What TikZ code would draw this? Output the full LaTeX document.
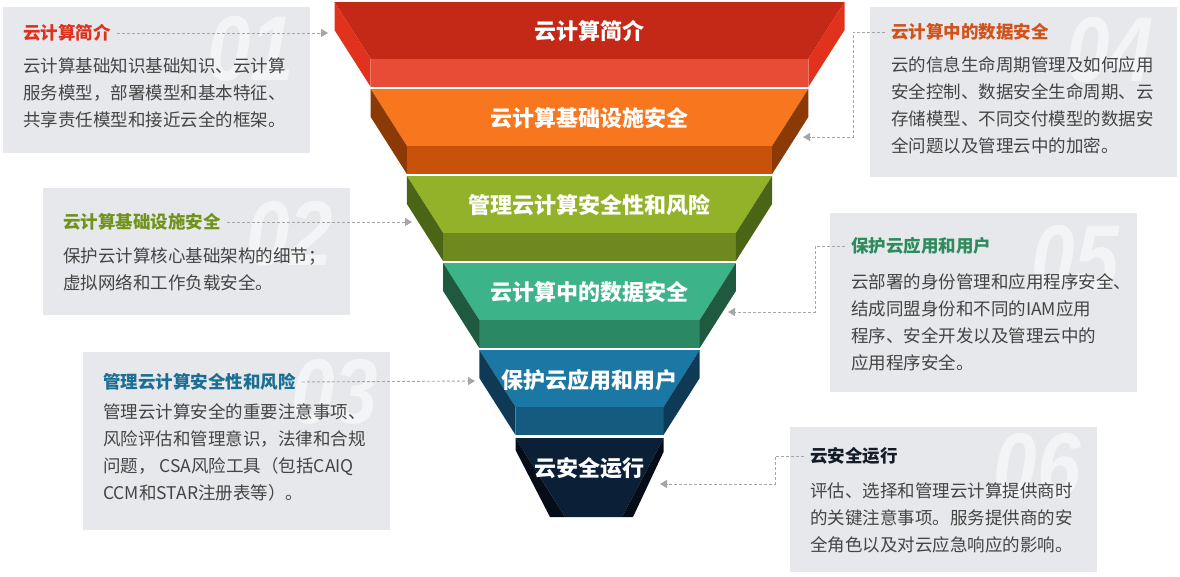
\documentclass[tikz,border=0pt]{standalone}
\usepackage{fontspec}
\newfontfamily\cjk{Noto Sans CJK SC}
\newfontfamily\wmfont{Liberation Sans}
\usetikzlibrary{arrows.meta}
\definecolor{boxbg}{HTML}{E6E8EB}
\definecolor{wmcol}{HTML}{F3F4F6}
\definecolor{bodycol}{HTML}{444444}
\definecolor{conncol}{HTML}{A6A6A6}
\definecolor{faceA}{HTML}{C42816}\definecolor{bandA}{HTML}{E84C36}\definecolor{wedgeA}{HTML}{E0321C}
\definecolor{faceB}{HTML}{F7761E}\definecolor{bandB}{HTML}{C9520A}\definecolor{wedgeB}{HTML}{8B3A06}
\definecolor{faceC}{HTML}{92B22A}\definecolor{bandC}{HTML}{6E8A1E}\definecolor{wedgeC}{HTML}{4B6516}
\definecolor{faceD}{HTML}{3DB38A}\definecolor{bandD}{HTML}{2C8864}\definecolor{wedgeD}{HTML}{1F5A40}
\definecolor{faceE}{HTML}{1B77A3}\definecolor{bandE}{HTML}{155B7F}\definecolor{wedgeE}{HTML}{0E3A55}
\definecolor{faceF}{HTML}{0B1F36}\definecolor{wedgeF}{HTML}{050D18}
\definecolor{ttlA}{HTML}{E0301E}
\definecolor{ttlB}{HTML}{72921E}
\definecolor{ttlC}{HTML}{1B6E94}
\definecolor{ttlD}{HTML}{D2521C}
\definecolor{ttlE}{HTML}{2E8B5E}
\definecolor{ttlF}{HTML}{141C28}
\newcommand\funneltier[6]{%
  \fill[#4] (589.5-#2,#1) -- (589.5+#2,#1) -- (589.5+#3,#1+57) -- (589.5-#3,#1+57) -- cycle;
  \fill[#5] (589.5-#3,#1+57) rectangle (589.5+#3,#1+85);
  \fill[#6] (589.5-#2,#1) -- (589.5-#2,#1+28) -- (589.5-#3,#1+85) -- (589.5-#3,#1+57) -- cycle;
  \fill[#6] (589.5+#2,#1) -- (589.5+#2,#1+28) -- (589.5+#3,#1+85) -- (589.5+#3,#1+57) -- cycle;
}
\begin{document}
\begin{tikzpicture}[x=1pt,y=-1pt,
  tierlbl/.style={text=white,font=\cjk\bfseries\fontsize{22}{22}\selectfont,inner sep=0pt},
  ttl/.style={anchor=west,font=\cjk\bfseries\fontsize{17.5}{20}\selectfont,inner sep=0pt},
  body/.style={anchor=north west,align=left,text=bodycol,font=\cjk\fontsize{17.5}{27}\selectfont,inner sep=0pt},
  wm/.style={text=wmcol,font=\wmfont\bfseries\itshape\fontsize{92}{92}\selectfont,xscale=0.85,inner sep=0pt},
  conn/.style={draw=conncol,line width=0.9pt,dash pattern=on 3pt off 2pt,shorten <=6pt,
    -{Triangle[length=7pt,width=8pt,fill=conncol,sep=0pt]}},
  boxfill/.style={fill=boxbg}]
\useasboundingbox (0,0) rectangle (1180,576);
\fill[white] (0,0) rectangle (1180,576);
% funnel
\funneltier{2}{255}{218.8}{faceA}{bandA}{wedgeA}
\funneltier{89}{218.8}{182.6}{faceB}{bandB}{wedgeB}
\funneltier{176}{182.6}{146.4}{faceC}{bandC}{wedgeC}
\funneltier{263}{146.4}{110.2}{faceD}{bandD}{wedgeD}
\funneltier{350}{110.2}{74}{faceE}{bandE}{wedgeE}
\fill[faceF] (515.5,438) -- (663.5,438) -- (622,517) -- (565,517) -- cycle;
\fill[wedgeF] (515.5,438) -- (515.5,450) -- (550,517) -- (565,517) -- cycle;
\fill[wedgeF] (663.5,438) -- (663.5,452) -- (633,517) -- (622,517) -- cycle;
\node[tierlbl] (n1) at (589.5,31) {云计算简介};
\node[tierlbl] (n2) at (589.5,118) {云计算基础设施安全};
\node[tierlbl] (n3) at (589.5,205) {管理云计算安全性和风险};
\node[tierlbl] (n4) at (589.5,292) {云计算中的数据安全};
\node[tierlbl] (n5) at (589.5,380) {保护云应用和用户};
\node[tierlbl] (n6) at (589.5,468) {云安全运行};
% boxes
\fill[boxfill] (3,7) rectangle (310,153);
\fill[boxfill] (43,188) rectangle (350,315);
\fill[boxfill] (83,352) rectangle (390,530);
\fill[boxfill] (870,7) rectangle (1177,177);
\fill[boxfill] (830,213) rectangle (1137,392);
\fill[boxfill] (790,427) rectangle (1097,572);
% watermarks
\node[wm] (w1) at (251,49) {01};
\node[wm] (w2) at (290,234) {02};
\node[wm] (w3) at (335,392) {03};
\node[wm] (w4) at (1110,50) {04};
\node[wm] (w5) at (1075,258) {05};
\node[wm] (w6) at (1037,466) {06};
% titles
\node[ttl,text=ttlA] (t1) at (23,33) {云计算简介};
\node[ttl,text=ttlB] (t2) at (63,222) {云计算基础设施安全};
\node[ttl,text=ttlC] (t3) at (103,382) {管理云计算安全性和风险};
\node[ttl,text=ttlD] (t4) at (891,32) {云计算中的数据安全};
\node[ttl,text=ttlE] (t5) at (851,246) {保护云应用和用户};
\node[ttl,text=ttlF] (t6) at (810,456) {云安全运行};
% bodies
\node[body] (b1) at (23,58) {云计算基础知识基础知识、云计算\\服务模型，部署模型和基本特征、\\共享责任模型和接近云全的框架。};
\node[body] (b2) at (63,248) {保护云计算核心基础架构的细节；\\虚拟网络和工作负载安全。};
\node[body] (b3) at (103,403) {管理云计算安全的重要注意事项、\\风险评估和管理意识，法律和合规\\问题， CSA风险工具（包括CAIQ\\CCM和STAR注册表等）。};
\node[body] (b4) at (891,56) {云的信息生命周期管理及如何应用\\安全控制、数据安全生命周期、云\\存储模型、不同交付模型的数据安\\全问题以及管理云中的加密。};
\node[body] (b5) at (851,273) {云部署的身份管理和应用程序安全、\\结成同盟身份和不同的IAM应用\\程序、安全开发以及管理云中的\\应用程序安全。};
\node[body] (b6) at (810,483) {评估、选择和管理云计算提供商时\\的关键注意事项。服务提供商的安\\全角色以及对云应急响应的影响。};
% connectors
\coordinate (a1) at (328,33);
\coordinate (a2) at (412,222);
\coordinate (a3) at (475,381);
\coordinate (a4) at (803,137);
\coordinate (a5) at (728,312);
\coordinate (a6) at (660,484);
\draw[conn] (t1.east) -- (a1);
\draw[conn] (t2.east) -- (a2);
\draw[conn] (t3.east) -- (a3);
\draw[conn] (t4.west) -- ++(-38,0) |- (a4);
\draw[conn] (t5.west) -- ++(-36,0) |- (a5);
\draw[conn] (t6.west) -- ++(-35,0) |- (a6);
\end{tikzpicture}
\end{document}
